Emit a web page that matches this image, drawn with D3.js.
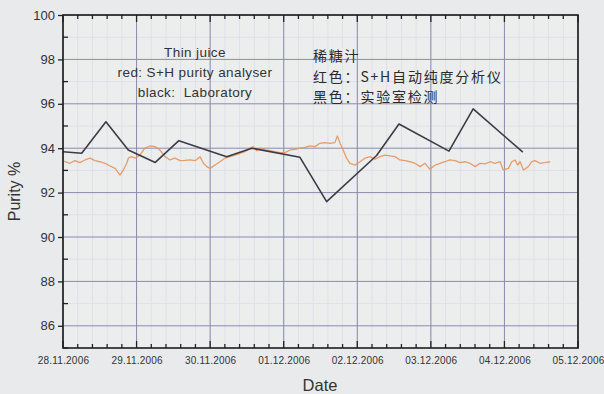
<!DOCTYPE html>
<html>
<head>
<meta charset="utf-8">
<script src="https://d3js.org/d3.v7.min.js"></script>
<style>
  html, body { margin: 0; padding: 0; background: #e8eaeb; }
  svg { display: block; }
</style>
</head>
<body>
<div id="chart"></div>
<script>
// Thin juice purity, 28.11.2006 - 05.12.2006
const START = Date.UTC(2006, 10, 28); // 28.11.2006 00:00

// red: S+H purity analyser (hours since start, purity %)
const analyserHours = [0, 0.7, 2.3, 3.9, 5.5, 7.2, 8.8, 10.4, 12.0, 13.7, 15.3, 17.0, 18.6, 19.7, 20.8, 21.3, 22.4, 23.5,
  25.1, 26.7, 28.4, 30.0, 31.6, 33.3, 34.9, 36.5, 38.2, 39.8, 41.4, 43.1, 44.7, 45.8, 46.9, 48.0, 49.6, 51.2, 52.8, 54.5,
  56.1, 57.7, 59.4, 61.0, 62.1, 63.2, 64.3, 65.9, 67.5, 69.2, 70.8, 72.4, 74.1, 75.7, 77.3, 78.9, 80.6, 82.2, 83.8, 85.5,
  87.1, 88.7, 89.5, 90.4, 91.4, 92.5, 93.6, 95.3, 96.9, 98.5, 100.2, 101.8, 103.4, 105.0, 106.7, 108.3, 109.9, 111.6,
  113.2, 114.8, 116.5, 118.1, 119.7, 121.4, 123.0, 124.6, 126.2, 127.9, 129.5, 131.1, 132.8, 134.4, 136.0, 137.7, 139.3,
  140.9, 142.6, 143.6, 145.3, 146.4, 147.5, 148.3, 149.1, 150.2, 151.8, 152.9, 154.0, 155.6, 157.2, 158.9];
const analyserPurity = [93.42, 93.39, 93.32, 93.44, 93.35, 93.47, 93.55, 93.44, 93.39, 93.32, 93.20, 93.09, 92.79, 93.02, 93.32, 93.55, 93.62, 93.55,
  93.69, 94.00, 94.10, 94.07, 93.92, 93.62, 93.47, 93.55, 93.44, 93.45, 93.47, 93.44, 93.62, 93.32, 93.17, 93.09, 93.24, 93.39, 93.55, 93.62,
  93.69, 93.77, 93.84, 94.00, 94.07, 93.89, 94.00, 93.92, 93.89, 93.84, 93.80, 93.80, 93.92, 93.95, 94.00, 94.04, 94.10, 94.07, 94.22, 94.25,
  94.22, 94.25, 94.55, 94.22, 93.92, 93.55, 93.32, 93.24, 93.39, 93.55, 93.62, 93.50, 93.62, 93.69, 93.65, 93.62, 93.47, 93.44,
  93.39, 93.32, 93.17, 93.32, 93.05, 93.24, 93.32, 93.39, 93.47, 93.44, 93.35, 93.39, 93.32, 93.17, 93.32, 93.29, 93.39,
  93.32, 93.39, 93.02, 93.09, 93.39, 93.47, 93.24, 93.39, 93.02, 93.17, 93.39, 93.44, 93.32, 93.35, 93.39];

// black: Laboratory
const labHours = [0, 6.1, 14.0, 21.3, 30.1, 37.8, 53.4, 61.6, 77.3, 86.0, 102.3, 109.6, 125.9, 133.8, 150.0];
const labPurity = [93.84, 93.77, 95.19, 93.92, 93.36, 94.34, 93.62, 94.00, 93.59, 91.59, 93.67, 95.09, 93.87, 95.77, 93.82];

const yTicks = [86, 88, 90, 92, 94, 96, 98, 100];
const yMinorTicks = [85, 87, 89, 91, 93, 95, 97, 99];
const notesEn = ["Thin juice", "red: S+H purity analyser", "black:  Laboratory"];
const notesZh = ["稀糖汁", "红色：S+H自动纯度分析仪", "黑色：实验室检测"];

const width = 604;
const height = 394;
const margin = { top: 15, right: 26, bottom: 46, left: 63 };
const HOUR = 3600e3;

const toDate = h => new Date(START + h * HOUR);
const analyser = analyserHours.map((h, i) => ({ t: toDate(h), v: analyserPurity[i] }));
const lab = labHours.map((h, i) => ({ t: toDate(h), v: labPurity[i] }));

const svg = d3.select("#chart")
  .append("svg")
  .attr("width", width)
  .attr("height", height);

svg.append("rect")
  .attr("width", width)
  .attr("height", height)
  .attr("fill", "#e8eaeb");

const x = d3.scaleUtc()
  .domain([new Date(START), toDate(7 * 24)])
  .range([margin.left, width - margin.right]);

const y = d3.scaleLinear()
  .domain([85, 100])
  .range([height - margin.bottom, margin.top]);

const x0 = margin.left, x1 = width - margin.right;
const y0 = margin.top, y1 = height - margin.bottom;

// plot background
svg.append("rect")
  .attr("x", x0).attr("y", y0)
  .attr("width", x1 - x0).attr("height", y1 - y0)
  .attr("fill", "#eceeee");

const majorX = d3.utcDay.range(new Date(START), toDate(7 * 24 + 1));
const minorX = d3.range(0, 7 * 24 + 0.1, 4.8).map(toDate);

// faint minor grid
svg.append("g")
  .selectAll("line")
  .data(minorX)
  .join("line")
  .attr("x1", d => x(d)).attr("x2", d => x(d))
  .attr("y1", y0).attr("y2", y1)
  .attr("stroke", "#dde0e8")
  .attr("stroke-width", 1);

svg.append("g")
  .selectAll("line")
  .data(yMinorTicks)
  .join("line")
  .attr("x1", x0).attr("x2", x1)
  .attr("y1", d => y(d)).attr("y2", d => y(d))
  .attr("stroke", "#dde0e8")
  .attr("stroke-width", 1);

// major grid
svg.append("g")
  .selectAll("line")
  .data(majorX)
  .join("line")
  .attr("x1", d => x(d)).attr("x2", d => x(d))
  .attr("y1", y0).attr("y2", y1)
  .attr("stroke", "#8a8aae")
  .attr("stroke-width", 1);

svg.append("g")
  .selectAll("line")
  .data(yTicks)
  .join("line")
  .attr("x1", x0).attr("x2", x1)
  .attr("y1", d => y(d)).attr("y2", d => y(d))
  .attr("stroke", "#8a8aae")
  .attr("stroke-width", 1);

// series
const line = d3.line()
  .x(d => x(d.t))
  .y(d => y(d.v));

svg.append("path")
  .datum(analyser)
  .attr("fill", "none")
  .attr("stroke", "#e8925c")
  .attr("stroke-opacity", 0.9)
  .attr("stroke-width", 1.3)
  .attr("stroke-linejoin", "round")
  .attr("d", line);

svg.append("path")
  .datum(lab)
  .attr("fill", "none")
  .attr("stroke", "#3c3c46")
  .attr("stroke-width", 1.6)
  .attr("stroke-linejoin", "round")
  .attr("d", line);

// axes
const fmt = d3.utcFormat("%d.%m.%Y");

const xAxis = svg.append("g")
  .attr("transform", `translate(0, ${y1})`)
  .call(d3.axisBottom(x).tickValues(majorX).tickSize(0).tickPadding(9).tickFormat(fmt));
xAxis.select(".domain").remove();
xAxis.selectAll("text")
  .attr("font-family", "Liberation Sans, Arial, sans-serif")
  .attr("font-size", "10px")
  .attr("letter-spacing", "0.2px")
  .attr("fill", "#333");

// bottom ticks, pointing up
svg.append("g")
  .selectAll("line")
  .data(minorX)
  .join("line")
  .attr("x1", d => x(d)).attr("x2", d => x(d))
  .attr("y1", y1).attr("y2", (d, i) => y1 - (i % 5 === 0 ? 7 : 4))
  .attr("stroke", "#222").attr("stroke-width", 1.3);

// top ticks, pointing down
svg.append("g")
  .selectAll("line")
  .data(minorX)
  .join("line")
  .attr("x1", d => x(d)).attr("x2", d => x(d))
  .attr("y1", y0).attr("y2", (d, i) => y0 + (i % 5 === 0 ? 7 : 4))
  .attr("stroke", "#222").attr("stroke-width", 1.3);

const yAxis = svg.append("g")
  .attr("transform", `translate(${x0}, 0)`)
  .call(d3.axisLeft(y).tickValues(yTicks).tickSize(5).tickPadding(3));
yAxis.select(".domain").remove();
yAxis.selectAll(".tick line").attr("stroke", "#222").attr("stroke-width", 1.3);
yAxis.selectAll("text")
  .attr("font-family", "Liberation Sans, Arial, sans-serif")
  .attr("font-size", "13px")
  .attr("fill", "#333");

// left minor ticks, pointing in
svg.append("g")
  .selectAll("line")
  .data(yMinorTicks)
  .join("line")
  .attr("x1", x0).attr("x2", x0 + 5)
  .attr("y1", d => y(d)).attr("y2", d => y(d))
  .attr("stroke", "#222").attr("stroke-width", 1.3);

// frame
svg.append("rect")
  .attr("x", x0).attr("y", y0)
  .attr("width", x1 - x0).attr("height", y1 - y0)
  .attr("fill", "none")
  .attr("stroke", "#1e1e1e")
  .attr("stroke-width", 1.6);

// axis titles
svg.append("text")
  .attr("transform", `translate(20, ${(y0 + y1) / 2 + 10}) rotate(-90)`)
  .attr("text-anchor", "middle")
  .attr("font-family", "Liberation Sans, Arial, sans-serif")
  .attr("font-size", "16px")
  .attr("fill", "#333")
  .text("Purity %");

svg.append("text")
  .attr("x", 320)
  .attr("y", 391)
  .attr("text-anchor", "middle")
  .attr("font-family", "Liberation Sans, Arial, sans-serif")
  .attr("font-size", "16.5px")
  .attr("fill", "#333")
  .text("Date");

// notes
svg.append("g")
  .selectAll("text")
  .data(notesEn)
  .join("text")
  .attr("x", 195)
  .attr("y", (d, i) => 57 + i * 20)
  .attr("text-anchor", "middle")
  .attr("font-family", "Liberation Sans, Arial, sans-serif")
  .attr("font-size", "13.5px")
  .attr("letter-spacing", "0.4px")
  .style("white-space", "pre")
  .attr("fill", "#333")
  .text(d => d);

svg.append("g")
  .selectAll("text")
  .data(notesZh)
  .join("text")
  .attr("x", 313)
  .attr("y", (d, i) => 61 + i * 20.5)
  .attr("font-family", "Noto Sans CJK SC, sans-serif")
  .attr("font-size", "14px")
  .attr("letter-spacing", "1.8px")
  .attr("fill", "#2a2a2a")
  .text(d => d);
</script>
</body>
</html>
